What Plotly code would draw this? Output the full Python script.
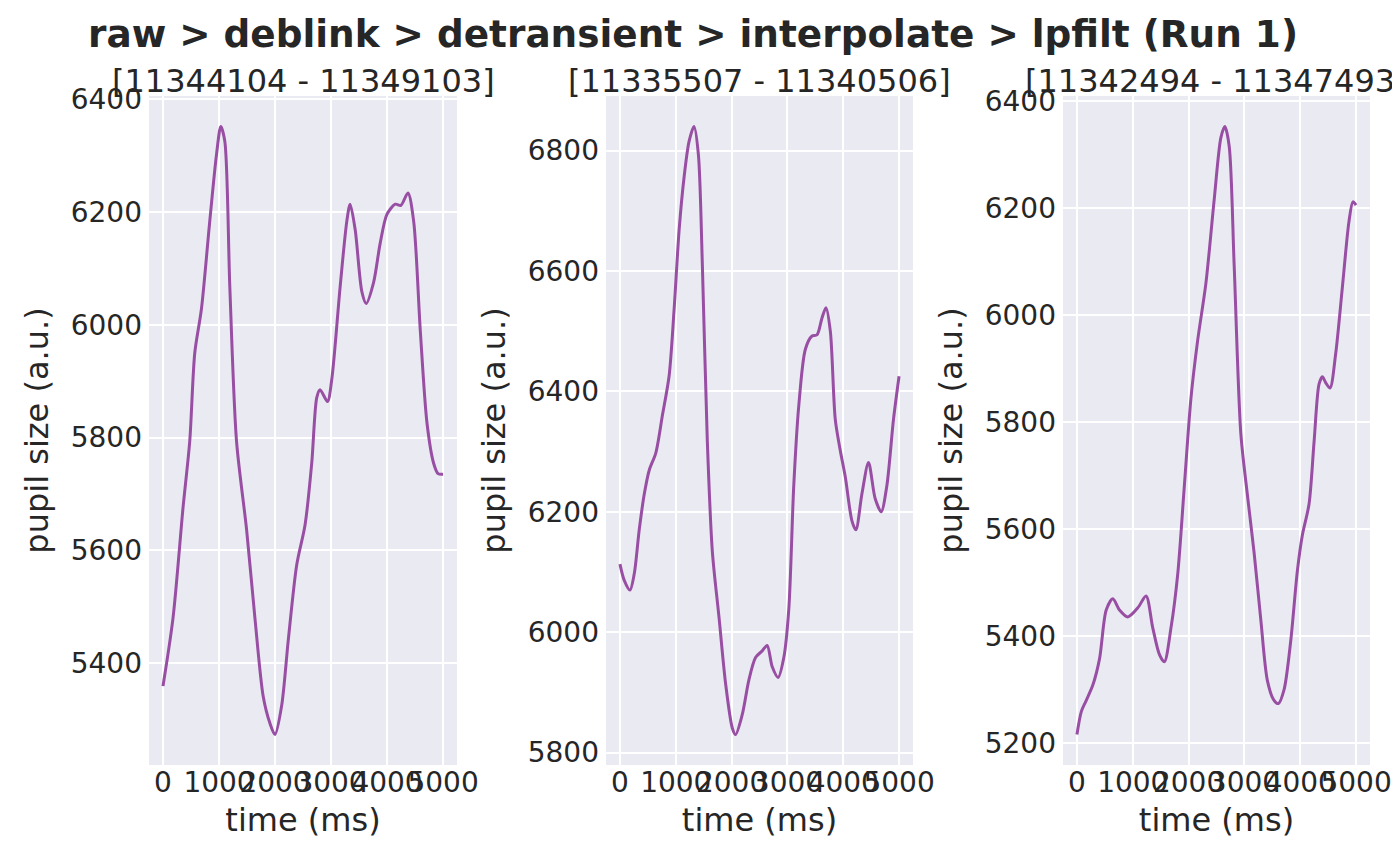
import plotly.graph_objects as go

# --- data (time in ms, pupil size in a.u.) ---
titles = ['[11344104 - 11349103]', '[11335507 - 11340506]', '[11342494 - 11347493]']
suptitle = 'raw > deblink > detransient > interpolate > lpfilt (Run 1)'

t1 = [0, 179, 358, 477, 567, 686, 835, 955, 1032, 1104, 1193, 1313, 1492, 1641, 1790,
      1909, 1999, 2118, 2237, 2387, 2536, 2655, 2745, 2804, 2936, 3013, 3162, 3282, 3341,
      3431, 3550, 3628, 3759, 3878, 3998, 4147, 4248, 4373, 4475, 4594, 4714, 4833, 4911, 4999]
v1 = [5359, 5480, 5676, 5793, 5950, 6028, 6184, 6302, 6352, 6325, 6067, 5793, 5637, 5480, 5340,
      5293, 5273, 5324, 5441, 5574, 5645, 5754, 5871, 5885, 5864, 5903, 6067, 6184, 6214,
      6169, 6059, 6038, 6075, 6145, 6196, 6214, 6212, 6234, 6184, 5989, 5825, 5754, 5736, 5735]

t2 = [0, 77, 179, 256, 345, 435, 524, 643, 762, 881, 970, 1060, 1149, 1238, 1327, 1405,
      1476, 1565, 1655, 1774, 1893, 2012, 2071, 2190, 2310, 2429, 2548, 2637, 2726, 2833,
      2935, 3024, 3113, 3202, 3321, 3440, 3530, 3619, 3690, 3768, 3857, 3946, 4036, 4155,
      4226, 4333, 4452, 4571, 4679, 4780, 4899, 4999]
v2 = [6113, 6086, 6070, 6097, 6170, 6229, 6269, 6298, 6361, 6426, 6536, 6668, 6756, 6815, 6840, 6793,
      6610, 6317, 6134, 6025, 5914, 5841, 5830, 5863, 5921, 5958, 5969, 5978, 5943, 5925,
      5958, 6038, 6243, 6375, 6470, 6492, 6494, 6522, 6539, 6500, 6353, 6302, 6258, 6185,
      6170, 6229, 6282, 6222, 6200, 6243, 6353, 6425]

t3 = [0, 78, 167, 286, 405, 524, 643, 762, 911, 1090, 1238, 1357, 1476, 1565, 1685, 1804,
      1923, 2042, 2161, 2310, 2459, 2578, 2649, 2727, 2816, 2935, 3054, 3173, 3292, 3411,
      3530, 3608, 3710, 3829, 3949, 4038, 4157, 4247, 4336, 4396, 4455, 4533, 4634, 4753,
      4872, 4943, 4999]
v3 = [5216, 5259, 5280, 5309, 5358, 5449, 5470, 5449, 5436, 5453, 5475, 5416, 5366, 5352, 5416, 5515,
      5680, 5845, 5952, 6060, 6217, 6332, 6353, 6316, 6093, 5779, 5663, 5556, 5432, 5317,
      5280, 5274, 5300, 5391, 5523, 5589, 5647, 5763, 5871, 5885, 5874, 5864, 5928, 6051,
      6175, 6212, 6206]

xticks = [0, 1000, 2000, 3000, 4000, 5000]

series = [(t1, v1), (t2, v2), (t3, v3)]

W, H = 1400, 866
OFF = 8  # the page body adds an 8px margin around the plot div
panel_px = [(149, 457), (606, 913), (1063, 1370)]
top_px, bottom_px = 96, 765
ink = '#262626'
font_name = 'DejaVu Sans'


def fx(px):
    return (px - OFF) / W


def fy(px):
    return 1 - (px - OFF) / H


def pad_range(vals):
    # matplotlib-like 5% margins around the data
    lo, hi = min(vals), max(vals)
    span = hi - lo
    return [lo - 0.05 * span, hi + 0.05 * span]


fig = go.Figure()

for i, (t, v) in enumerate(series):
    n = '' if i == 0 else str(i + 1)
    fig.add_trace(go.Scatter(x=t, y=v, mode='lines',
                             line=dict(color='#984ea3', width=3, shape='spline', smoothing=0.8),
                             xaxis='x' + n, yaxis='y' + n, showlegend=False))

    x0, x1 = panel_px[i]
    axis_common = dict(showgrid=True, gridcolor='white', gridwidth=1.6, zeroline=False,
                       showline=False, ticks='', automargin=False,
                       tickfont=dict(size=28, color=ink),
                       title_font=dict(size=32, color=ink))
    fig.layout['xaxis' + n] = dict(domain=[fx(x0), fx(x1)], anchor='y' + n,
                                   range=pad_range(t), tickvals=xticks, tickangle=0,
                                   title=dict(text='time (ms)', standoff=10),
                                   ticklabelstandoff=-2, **axis_common)
    fig.layout['yaxis' + n] = dict(domain=[fy(bottom_px), fy(top_px)], anchor='x' + n,
                                   range=pad_range(v), dtick=200,
                                   title=dict(text='pupil size (a.u.)', standoff=12),
                                   ticklabelstandoff=6, **axis_common)

    fig.add_annotation(text=titles[i], x=fx((x0 + x1) / 2), y=fy(81),
                       xref='paper', yref='paper', xanchor='center', yanchor='middle',
                       showarrow=False, font=dict(size=32, color=ink))

fig.update_layout(
    width=W, height=H,
    autosize=False,
    margin=dict(l=0, r=0, t=0, b=0, pad=0, autoexpand=False),
    paper_bgcolor='white',
    plot_bgcolor='#EAEAF2',
    font=dict(family=font_name, color=ink),
    title=dict(text='<b>' + suptitle + '</b>', x=fx(693), xanchor='center',
               y=fy(34), yanchor='middle', yref='container', xref='container',
               automargin=False, font=dict(size=37.4, color=ink)),
)

fig.write_html('out.html')
